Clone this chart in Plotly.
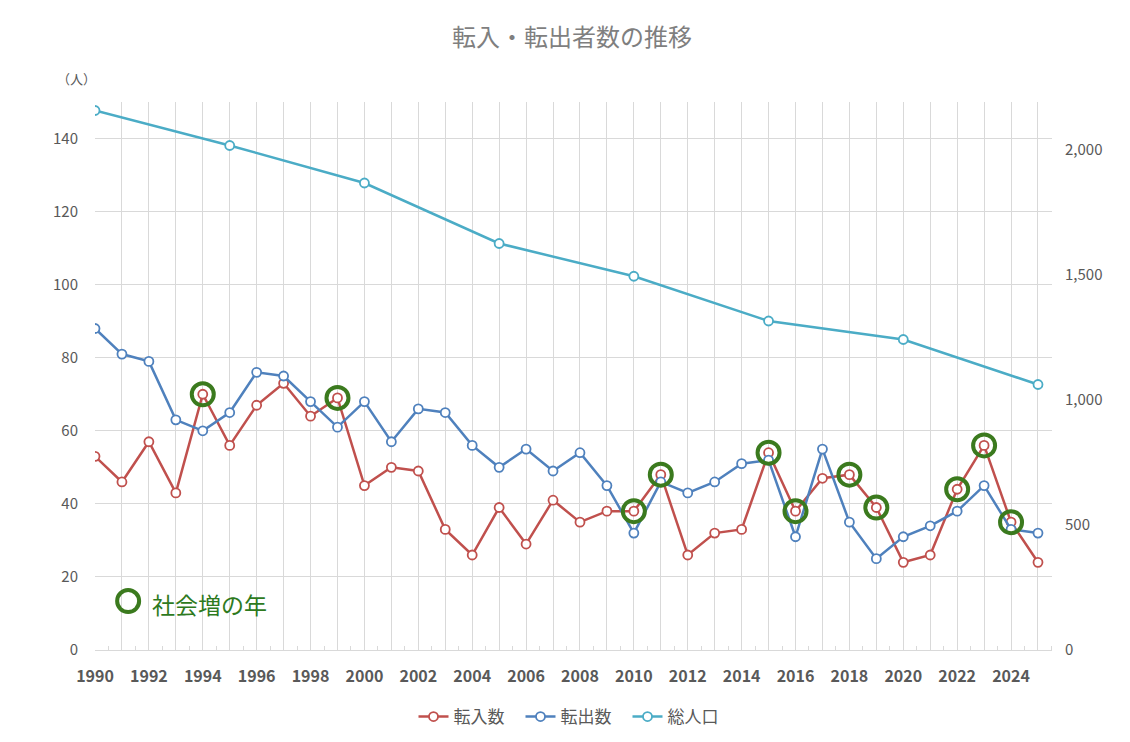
import plotly.graph_objs as go

FONT = 'Noto Sans CJK JP'
GRAY = '#595959'
GRID = '#D9D9D9'

RED = '#C0504D'
BLUE = '#4F81BD'
TEAL = '#4BACC6'
GREEN = '#3B7A1E'

# data
years = list(range(1990, 2026))
tennyu = [53, 46, 57, 43, 70, 56, 67, 73, 64, 69,
          45, 50, 49, 33, 26, 39, 29, 41, 35, 38,
          38, 48, 26, 32, 33, 54, 38, 47, 48, 39,
          24, 26, 44, 56, 35, 24]
tenshutsu = [88, 81, 79, 63, 60, 65, 76, 75, 68, 61,
             68, 57, 66, 65, 56, 50, 55, 49, 54, 45,
             32, 46, 43, 46, 51, 52, 31, 55, 35, 25,
             31, 34, 38, 45, 33, 32]
census_years = [1990, 1995, 2000, 2005, 2010, 2015, 2020, 2025]
population = [2158, 2018, 1868, 1626, 1495, 1316, 1242, 1062]

series_names = ['転入数', '転出数', '総人口']
x_labels = [str(y) if y % 2 == 0 else '' for y in years]

# social increase years: in > out
inc_years = [y for y, a, b in zip(years, tennyu, tenshutsu) if a > b]
inc_vals = [a for a, b in zip(tennyu, tenshutsu) if a > b]

# the page body has an 8px margin, so shrink the figure by that much
OFF = 8
W, H = 1130 - OFF, 742 - OFF
# plot area in page pixels
PL, PR, PT, PB = 95, 1052, 102, 650
PW, PH = PR - PL, PB - PT


def line_trace(x, y, name, color, yaxis='y'):
    return go.Scatter(x=x, y=y, name=name, mode='lines+markers', yaxis=yaxis,
                      line=dict(color=color, width=2.5),
                      marker=dict(symbol='circle', size=9, color='white',
                                  line=dict(color=color, width=1.8)))


ring = dict(symbol='circle-open', size=22, color=GREEN, line=dict(color=GREEN, width=4))

fig = go.Figure()
fig.add_trace(line_trace(years, tennyu, series_names[0], RED))
fig.add_trace(line_trace(years, tenshutsu, series_names[1], BLUE))
fig.add_trace(line_trace(census_years, population, series_names[2], TEAL, 'y2'))

# green rings on social-increase years
fig.add_trace(go.Scatter(x=inc_years, y=inc_vals, mode='markers', showlegend=False,
                         hoverinfo='skip', marker=ring))

# in-chart key
fig.add_trace(go.Scatter(x=[1991.23], y=[13.4], mode='markers', showlegend=False,
                         hoverinfo='skip', marker=ring))
fig.add_annotation(x=(150 - PL) / PW, y=(PB - 604) / PH, xref='paper', yref='paper',
                   text='社会増の年', showarrow=False, xanchor='left', yanchor='middle',
                   font=dict(family=FONT, size=23, color='#2E7A1E'))

fig.add_annotation(x=(76 - PL) / PW, y=(PB - 78) / PH, xref='paper', yref='paper',
                   text='（人）', showarrow=False, xanchor='center', yanchor='middle',
                   font=dict(family=FONT, size=13, color=GRAY))

fig.update_layout(
    width=W, height=H,
    margin=dict(l=PL - OFF, r=1130 - PR, t=PT - OFF, b=742 - PB, autoexpand=False),
    paper_bgcolor='white', plot_bgcolor='white',
    font=dict(family=FONT, color=GRAY),
    title=dict(text='転入・転出者数の推移', x=(572 - OFF) / W, xanchor='center',
               y=1 - (38 - OFF) / H, yanchor='middle',
               font=dict(family=FONT, size=24, color='#7F7F7F')),
    showlegend=True,
    legend=dict(orientation='h', x=(574 - PL) / PW, xanchor='center',
                y=(PB - 717) / PH, yanchor='middle',
                font=dict(family=FONT, size=17, color=GRAY),
                entrywidth=62, entrywidthmode='pixels',
                traceorder='normal'),
    xaxis=dict(range=[1990, 2025.52], tickvals=years, ticktext=x_labels,
               automargin=False,
               showgrid=True, gridcolor=GRID, gridwidth=1,
               showline=True, linecolor=GRID, linewidth=1, zeroline=False,
               ticks='', ticklabelstandoff=12,
               tickfont=dict(family=FONT, size=16, color=GRAY, weight='bold'),
               minor=dict(tick0=1990.5, dtick=1, ticks='inside', ticklen=4,
                          tickcolor=GRID, showgrid=False)),
    yaxis=dict(range=[0, 150], dtick=20, showgrid=True, gridcolor=GRID, gridwidth=1,
               automargin=False, zeroline=False, showline=False, ticks='',
               ticklabelstandoff=16,
               tickfont=dict(family=FONT, size=15, color=GRAY)),
    yaxis2=dict(range=[0, 2192], dtick=500, overlaying='y', side='right',
                automargin=False, showgrid=False, zeroline=False, showline=False,
                ticks='', ticklabelstandoff=12, tickformat=',',
                tickfont=dict(family=FONT, size=15, color=GRAY)),
)

fig.write_html("out.html")
